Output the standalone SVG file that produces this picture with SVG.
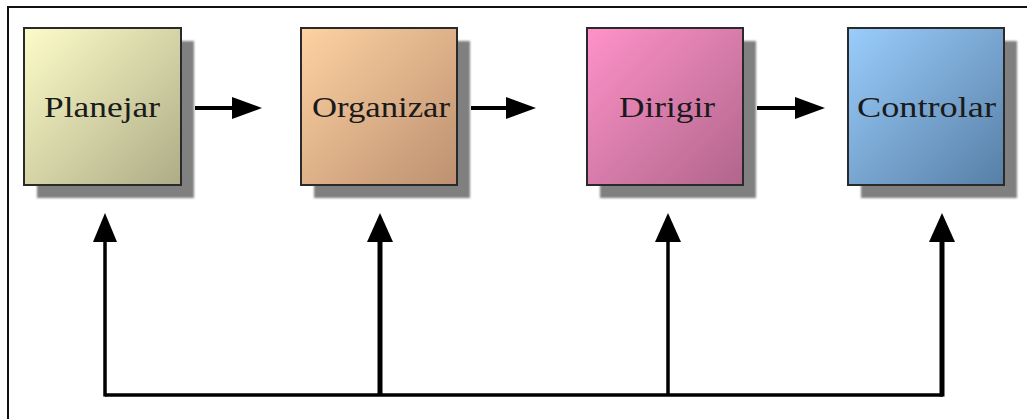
<svg xmlns="http://www.w3.org/2000/svg" width="1027" height="419" viewBox="0 0 1027 419">
  <style>
    .box { stroke: #2a2a2a; stroke-width: 2; }
    .shadow { fill: #808080; }
    .label { font-family: "Liberation Serif", "Times New Roman", serif; font-size: 30px; fill: #1a1a1a; text-anchor: start; }
    .wire { fill: none; stroke: #000; stroke-linecap: butt; }
  </style>
  <defs>
    <filter id="soft" x="-10%" y="-10%" width="120%" height="120%">
      <feGaussianBlur stdDeviation="1.2"/>
    </filter>
    <linearGradient id="gPlan" x1="0" y1="0" x2="1" y2="1">
      <stop offset="0" stop-color="#fdfcc8"/>
      <stop offset="1" stop-color="#aeac86"/>
    </linearGradient>
    <linearGradient id="gOrg" x1="0" y1="0" x2="1" y2="1">
      <stop offset="0" stop-color="#fed2a2"/>
      <stop offset="1" stop-color="#bd9070"/>
    </linearGradient>
    <linearGradient id="gDir" x1="0" y1="0" x2="1" y2="1">
      <stop offset="0" stop-color="#ff92c9"/>
      <stop offset="1" stop-color="#b0668c"/>
    </linearGradient>
    <linearGradient id="gCtl" x1="0" y1="0" x2="1" y2="1">
      <stop offset="0" stop-color="#9acdfc"/>
      <stop offset="1" stop-color="#577fa6"/>
    </linearGradient>
    <marker id="head" viewBox="0 0 10 10" refX="10" refY="5" markerWidth="30" markerHeight="30" markerUnits="userSpaceOnUse" orient="auto">
      <path d="M0,0 L10,5 L0,10 Z" fill="#000"/>
    </marker>
  </defs>

  <rect width="1027" height="419" fill="#fff"/>
  <!-- frame (top and left edges) -->
  <path d="M8,419 V7 H1027" fill="none" stroke="#111" stroke-width="2"/>

  <g id="planejar">
    <rect class="shadow" x="37" y="41" width="157" height="157" filter="url(#soft)"/>
    <rect class="box" x="24" y="28" width="157" height="157" fill="url(#gPlan)"/>
    <text class="label" x="44" y="117" textLength="116" lengthAdjust="spacingAndGlyphs">Planejar</text>
  </g>

  <g id="organizar">
    <rect class="shadow" x="314" y="41" width="156" height="157" filter="url(#soft)"/>
    <rect class="box" x="301" y="28" width="156" height="157" fill="url(#gOrg)"/>
    <text class="label" x="312" y="117" textLength="138" lengthAdjust="spacingAndGlyphs">Organizar</text>
  </g>

  <g id="dirigir">
    <rect class="shadow" x="600" y="41" width="156" height="157" filter="url(#soft)"/>
    <rect class="box" x="587" y="28" width="156" height="157" fill="url(#gDir)"/>
    <text class="label" x="619" y="117" textLength="96" lengthAdjust="spacingAndGlyphs">Dirigir</text>
  </g>

  <g id="controlar">
    <rect class="shadow" x="861" y="41" width="156" height="157" filter="url(#soft)"/>
    <rect class="box" x="848" y="28" width="156" height="157" fill="url(#gCtl)"/>
    <text class="label" x="857" y="117" textLength="139" lengthAdjust="spacingAndGlyphs">Controlar</text>
  </g>

  <g id="connectors">
    <!-- forward flow -->
    <path d="M195,108 H234" class="wire" stroke-width="4"/>
    <path d="M232,97 L262,108 L232,119 Z" fill="#000"/>
    <path d="M471,108 H508" class="wire" stroke-width="4"/>
    <path d="M506,97 L536,108 L506,119 Z" fill="#000"/>
    <path d="M757,108 H797" class="wire" stroke-width="4"/>
    <path d="M795,97 L825,108 L795,119 Z" fill="#000"/>

    <!-- feedback bus -->
    <path d="M105,395 H943" class="wire" stroke-width="3.5"/>
    <path d="M105,396.5 V240" class="wire" stroke-width="3.5"/>
    <path d="M380,395 V240" class="wire" stroke-width="5"/>
    <path d="M668,395 V240" class="wire" stroke-width="3.5"/>
    <path d="M942,396.5 V240" class="wire" stroke-width="5"/>
    <path d="M93,242 L105,213 L117,242 Z" fill="#000"/>
    <path d="M367,242 L380,213 L393,242 Z" fill="#000"/>
    <path d="M655,242 L668,213 L681,242 Z" fill="#000"/>
    <path d="M929,242 L942,213 L955,242 Z" fill="#000"/>
  </g>
</svg>
